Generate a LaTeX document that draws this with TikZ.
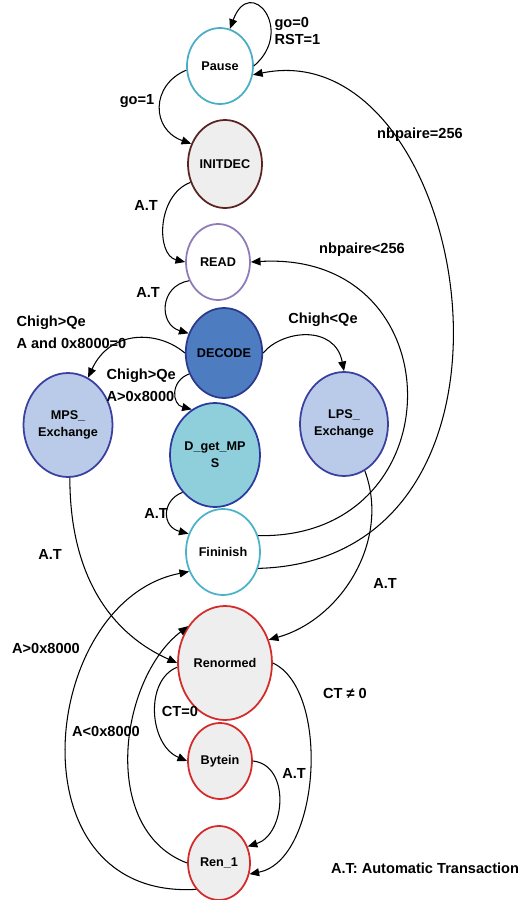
\documentclass[tikz,border=0pt]{standalone}
\usepackage{fontspec}
\setmainfont{Liberation Sans}
\usepackage{tikz}
\usetikzlibrary{arrows.meta, shapes.geometric}
\definecolor{pauseline}{HTML}{4AADC6}
\definecolor{initline}{HTML}{5A2222}
\definecolor{readline}{HTML}{8E7BB8}
\definecolor{decline}{HTML}{2B3990}
\definecolor{decfill}{HTML}{4D7DC0}
\definecolor{getline}{HTML}{2B3A9E}
\definecolor{getfill}{HTML}{8FCFDC}
\definecolor{finline}{HTML}{4AB3C9}
\definecolor{xchgline}{HTML}{3A3FA0}
\definecolor{xchgfill}{HTML}{B9CBE8}
\definecolor{renline}{HTML}{D42A2A}
\definecolor{greyfill}{HTML}{EEEEEE}
\tikzset{
    statebase/.style={ellipse, line width=1pt, inner sep=0pt, align=center, font=\bfseries\fontsize{7.2}{9.6}\selectfont},
    pausestate/.style={statebase, draw=pauseline, fill=white, minimum width=1.32cm, minimum height=1.52cm},
    initstate/.style={statebase, draw=initline, fill=greyfill, minimum width=1.48cm, minimum height=1.76cm},
    readstate/.style={statebase, draw=readline, fill=white, minimum width=1.28cm, minimum height=1.52cm},
    decstate/.style={statebase, draw=decline, fill=decfill, minimum width=1.48cm, minimum height=1.80cm},
    getstate/.style={statebase, draw=getline, fill=getfill, minimum width=1.80cm, minimum height=2.08cm},
    finstate/.style={statebase, draw=finline, fill=white, minimum width=1.48cm, minimum height=1.72cm},
    xchgstate/.style={statebase, draw=xchgline, fill=xchgfill, minimum width=1.78cm, minimum height=2.08cm},
    renstate/.style={statebase, draw=renline, fill=greyfill},
    edgelbl/.style={font=\bfseries\fontsize{8.3}{12.5}\selectfont, inner sep=0pt},
}

\begin{document}
\begin{tikzpicture}[
    x=0.02cm, y=-0.02cm,
    >={Triangle[length=5.5pt,width=4.5pt]}, line width=0.6pt,
]
\useasboundingbox (0,0) rectangle (523,900);
% states
\node[pausestate] (pause) at (220,66) {Pause};
\node[initstate] (initdec) at (225,164) {INITDEC};
\node[readstate] (read) at (218,262) {READ};
\node[decstate] (decode) at (224,353) {DECODE};
\node[xchgstate] (mps) at (68,425) {MPS\_\\Exchange};
\node[xchgstate, minimum width=1.76cm] (lps) at (344,424) {LPS\_\\Exchange};
\node[getstate] (getmps) at (215,455) {D\_get\_MP\\S};
\node[finstate] (finish) at (223,552) {Fininish};
\node[renstate, minimum width=1.88cm, minimum height=2.28cm] (renorm) at (225,663) {Renormed};
\node[renstate, minimum width=1.28cm, minimum height=1.52cm] (bytein) at (220,761) {Bytein};
\node[renstate, minimum width=1.24cm, minimum height=1.48cm] (ren1) at (219,863) {Ren\_1};

% transitions
\draw[->] (pause.0) .. controls +(42,-36) and +(20,-55) .. (pause.75);
\draw[->] (pause.187) .. controls +(-36,15) and +(-40,-14) .. (initdec.149);
\draw[->] (initdec.208) .. controls +(-34,13) and +(-29,-7) .. (read.180);
\draw[->] (read.213) .. controls +(-30,5) and +(-30,-9) .. (decode.151);
\draw[->] (decode.180) .. controls +(-27,-23) and +(22,-48) .. (mps.67);
\draw[->] (decode.211) .. controls +(-19,7) and +(-20,-5) .. (getmps.117);
\draw[->] (decode.0) .. controls +(19,-23) and +(-9,-47) .. (lps.90);
\draw[->] (getmps.229) .. controls +(-21,8) and +(-27,-7) .. (finish.152);
\draw[->] (finish.25) .. controls +(199,4) and +(206,-12) .. (read.0);
\draw[->] (finish.-25) .. controls +(303,-8) and +(218,-45) .. (pause.-15);
\draw[->] (mps.-88) .. controls +(0,102) and +(-63,-28) .. (renorm.180);
\draw[->] (lps.-66) .. controls +(26,70) and +(72,-20) .. (renorm.28);
\draw[->] (ren1.229) .. controls +(-187,11) and +(-150,29) .. (finish.210);
\draw[->] (ren1.180) .. controls +(-88,-33) and +(-69,53) .. (renorm.135);
\draw[->] (renorm.185) .. controls +(-33,13) and +(-38,-16) .. (bytein.180);
\draw[->] (bytein.0) .. controls +(38,4) and +(38,-12) .. (ren1.30);
\draw[->] (renorm.0) .. controls +(58,27) and +(71,-14) .. (ren1.-20);

% labels
\node[edgelbl, anchor=west, align=left, font=\bfseries\fontsize{8.3}{9.6}\selectfont] (lgo0) at (274,31) {go=0\\RST=1};
\node[edgelbl] (lgo1) at (137,101) {go=1};
\node[edgelbl] (lat1) at (146,205) {A.T};
\node[edgelbl] (lat2) at (148,292) {A.T};
\node[edgelbl, anchor=west, align=left] (lqe1) at (16,332) {Chigh>Qe\\A and 0x8000=0};
\node[edgelbl, anchor=west, align=left] (lqe2) at (106,385) {Chigh>Qe\\A>0x8000};
\node[edgelbl] (lqe3) at (323,320) {Chigh<Qe};
\node[edgelbl] (lnbeq) at (420,135) {nbpaire=256};
\node[edgelbl] (lnblt) at (362,250) {nbpaire<256};
\node[edgelbl] (lat3) at (156,513) {A.T};
\node[edgelbl] (lat4) at (50,554) {A.T};
\node[edgelbl] (lat5) at (385,583) {A.T};
\node[edgelbl] (lagt) at (46,648) {A>0x8000};
\node[edgelbl] (lctne) at (345,693) {CT ≠ 0};
\node[edgelbl] (lcteq) at (180,711) {CT=0};
\node[edgelbl] (lalt) at (106,731) {A<0x8000};
\node[edgelbl] (lat6) at (294,773) {A.T};
\node[edgelbl] (legend) at (425,868) {A.T: Automatic Transaction};
\end{tikzpicture}
\end{document}
